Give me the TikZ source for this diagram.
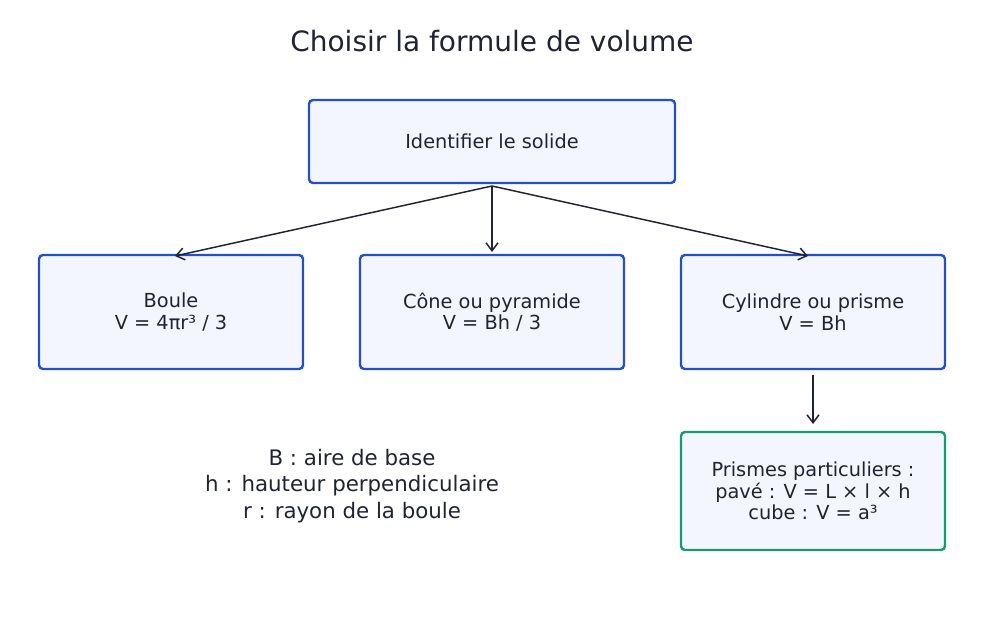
\documentclass[tikz,border=0pt]{standalone}
\usepackage{fontspec}
\setmainfont{DejaVu Sans}
\usetikzlibrary{arrows.meta}
\definecolor{ink}{HTML}{1F2333}
\definecolor{bl}{HTML}{2350C8}
\definecolor{gr}{HTML}{169A6E}
\definecolor{fl}{HTML}{F3F6FE}
\begin{document}
\begin{tikzpicture}[x=0.75pt,y=-0.75pt,
 box/.style={draw=bl,line width=1.8pt,fill=fl,rounded corners=3pt,align=center,text=ink,font=\fontsize{14.5}{16}\selectfont},
 arr/.style={draw=ink,line width=1.1pt,-{Straight Barb[length=6pt,width=9pt]}}]
\useasboundingbox (0,0) rectangle (983,629);
\node[text=ink,font=\fontsize{21}{24}\selectfont] (title) at (492,41) {Choisir la formule de volume};
\node[box,minimum width=366*0.75pt,minimum height=83*0.75pt] (id) at (492,141.5) {Identifier le solide};
\node[box,minimum width=264*0.75pt,minimum height=114*0.75pt] (b) at (171,312) {Boule\\V = 4πr³ / 3};
\node[box,minimum width=264*0.75pt,minimum height=114*0.75pt] (c) at (492,312) {Cône ou pyramide\\V = Bh / 3};
\node[box,minimum width=264*0.75pt,minimum height=114*0.75pt] (p) at (813,312) {Cylindre ou prisme\\V = Bh};
\node[box,draw=gr,minimum width=264*0.75pt,minimum height=118*0.75pt] (s) at (813,491) {Prismes particuliers :\\pavé : V = L × l × h\\cube : V = a³};
\node[text=ink,align=center,font=\fontsize{16}{20}\selectfont] (leg) at (352,486) {B : aire de base\\h : hauteur perpendiculaire\\r : rayon de la boule};
\coordinate (o) at (492,186);
\coordinate (bt) at (175,256);
\coordinate (ct) at (492,252);
\coordinate (pt) at (808,256);
\draw[arr] (o) -- (bt);
\draw[arr] (o) -- (ct);
\draw[arr] (o) -- (pt);
\coordinate (ps) at (813,375);
\coordinate (st) at (813,424);
\draw[arr] (ps) -- (st);
\end{tikzpicture}
\end{document}
